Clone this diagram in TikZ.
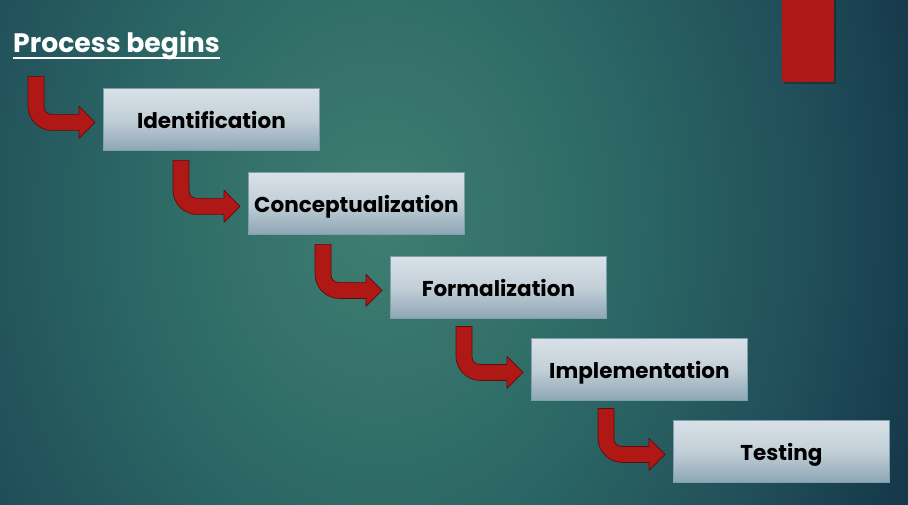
\documentclass[tikz,border=0pt]{standalone}
\usepackage{fontspec}
\setmainfont{Poppins}
\usetikzlibrary{calc}
\definecolor{bgin}{HTML}{3F7E71}
\definecolor{bgmid}{HTML}{2D6A66}
\definecolor{bgmid2}{HTML}{214F5A}
\definecolor{bgout}{HTML}{15394A}
\definecolor{arrowred}{HTML}{B01816}
\definecolor{arrowedge}{HTML}{5C0C0C}
\definecolor{boxtop}{HTML}{D9E1E7}
\definecolor{boxmid}{HTML}{C2CFD7}
\definecolor{boxbot}{HTML}{8DA6B4}
\definecolor{boxedge}{HTML}{7E9FB0}
\definecolor{cornerred}{HTML}{AE1917}
\pgfdeclareradialshading{bgshade}{\pgfpoint{0bp}{0bp}}{color(0bp)=(bgin); color(10bp)=(bgmid); color(19bp)=(bgmid2); color(25bp)=(bgout); color(50bp)=(bgout)}
\tikzset{
  stepbox/.style={draw=boxedge, line width=0.8pt, minimum width=216pt, minimum height=62pt,
    top color=boxtop, bottom color=boxbot, middle color=boxmid, anchor=north west,
    inner sep=0pt, text depth=0pt, font=\fontsize{21.5}{24}\selectfont\bfseries, text=black},
  redarrow/.style={fill=arrowred, draw=arrowedge, line width=0.7pt, line join=round},
}
\newcommand{\bentarrow}[1]{%
  \begin{scope}[shift={(#1.west)}, shift={(-75,-43)}]
    \path[redarrow] (0,0) -- (16,0) -- (16,30) .. controls (16,35) and (19,38) .. (24,38)
      -- (51,38) -- (51,30) -- (67,46) -- (51,62) -- (51,54) -- (24,54)
      .. controls (11,54) and (0,43) .. (0,30) -- cycle;
  \end{scope}}
\begin{document}
\begin{tikzpicture}[x=1pt, y=-1pt]
  \useasboundingbox (0,0) rectangle (908,505);
  \begin{scope}
    \clip (0,0) rectangle (908,505);
    \shade[shading=bgshade] (-180,-480) rectangle (940,920);
  \end{scope}
  % corner decoration
  \fill[black, opacity=0.25] (784,0) rectangle (836,84);
  \fill[cornerred] (782,0) rectangle (834,82);
  % title
  \node[anchor=base west, inner sep=0pt, text=white, font=\fontsize{26.7}{30}\selectfont\bfseries] (title) at (13,53) {Process begins};
  \draw[white, line width=2pt] (title.base west) ++(0,5) coordinate (ul1) -- ($(title.base east)+(0,5)$);
  % boxes
  \node[stepbox] (b1) at (103,88) {Identification};
  \node[stepbox] (b2) at (248,172) {Conceptualization};
  \node[stepbox] (b3) at (390,256) {Formalization};
  \node[stepbox] (b4) at (531,338) {Implementation};
  \node[stepbox] (b5) at (673,420) {Testing};
  % arrows
  \bentarrow{b1}
  \bentarrow{b2}
  \bentarrow{b3}
  \bentarrow{b4}
  \bentarrow{b5}
\end{tikzpicture}
\end{document}
